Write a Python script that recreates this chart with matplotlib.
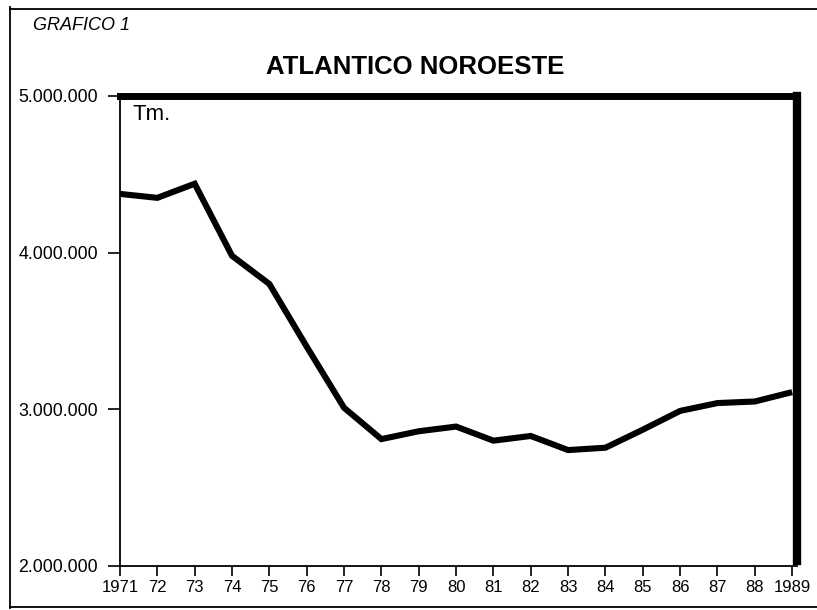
import matplotlib
matplotlib.use('Agg')
import matplotlib.pyplot as plt
from matplotlib.lines import Line2D
from matplotlib.ticker import FuncFormatter

plt.rcParams['font.family'] = ['Liberation Sans', 'DejaVu Sans']

# ── Datos: capturas Atlántico Noroeste (Tm.) ───────────────
years = list(range(1971, 1990))
catch = [4375000, 4350000, 4440000, 3980000, 3800000, 3400000, 3010000,
         2810000, 2860000, 2890000, 2800000, 2830000, 2740000, 2755000,
         2870000, 2990000, 3040000, 3050000, 3110000]
year_labels = ['1971', '72', '73', '74', '75', '76', '77', '78', '79', '80',
               '81', '82', '83', '84', '85', '86', '87', '88', '1989']
y_ticks = [2000000, 3000000, 4000000, 5000000]

W, H = 817, 610
fig = plt.figure(figsize=(W / 100, H / 100), dpi=100)

# marco exterior (sin borde derecho)
for xs, ys in [([10, 10], [7, 608]), ([10, 817], [9, 9]), ([10, 817], [607, 607])]:
    fig.add_artist(Line2D([x / W for x in xs], [1 - y / H for y in ys],
                          color='black', lw=1.3, transform=fig.transFigure))

fig.text(33 / W, 1 - 25 / H, 'GRAFICO 1', fontsize=13, fontstyle='italic',
         ha='left', va='center')
fig.text(415 / W, 1 - 67 / H, 'ATLANTICO NOROESTE', fontsize=18.5,
         fontweight='bold', ha='center', va='center')

ax_left, ax_right, ax_top, ax_bot = 120, 797, 96, 566
ax = fig.add_axes([ax_left / W, 1 - ax_bot / H, (ax_right - ax_left) / W,
                   (ax_bot - ax_top) / H])

ax.plot(years, catch, color='black', lw=4.4, solid_joinstyle='miter',
        solid_capstyle='butt')

ax.set_xlim(1971, 1989.13)
ax.set_ylim(2000000, 5000000)
ax.set_xticks(years)
ax.set_xticklabels(year_labels)
ax.set_yticks(y_ticks)
ax.yaxis.set_major_formatter(FuncFormatter(lambda v, p: f'{int(v):,}'.replace(',', '.')))

ax.tick_params(axis='x', direction='out', length=7, width=1.2, pad=3, labelsize=12)
ax.tick_params(axis='y', direction='out', length=8.5, width=1.2, pad=7.5, labelsize=12.8)

ax.spines['left'].set_linewidth(1.3)
ax.spines['bottom'].set_linewidth(1.3)
ax.spines['top'].set_linewidth(5)
ax.spines['right'].set_linewidth(6)
ax.spines['right'].set_bounds(2030000, 5000000)

ax.text(0.018, 0.982, 'Tm.', transform=ax.transAxes, fontsize=16,
        ha='left', va='top')

fig.savefig('out.png', dpi=100)
